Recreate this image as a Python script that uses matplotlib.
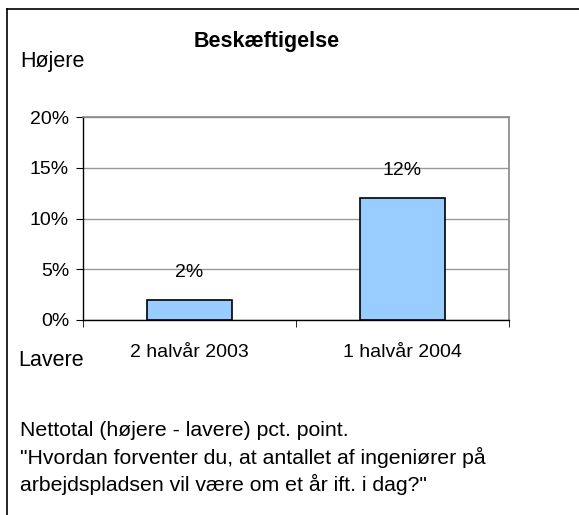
import matplotlib
matplotlib.use("Agg")
import matplotlib.pyplot as plt
from matplotlib.ticker import FuncFormatter

categories = ["2 halvår 2003", "1 halvår 2004"]
values = [2, 12]
yticks = [0, 5, 10, 15, 20]

plt.rcParams['font.family'] = ['Liberation Sans', 'DejaVu Sans']

W, H = 579, 515
fig = plt.figure(figsize=(W/100, H/100), dpi=100)
fig.patch.set_facecolor('white')

# outer frame lines (left, top)
fig.add_artist(plt.Line2D([7/W, 7/W], [0, 1 - 9/H], color='black', lw=1.2))
fig.add_artist(plt.Line2D([7/W, 1], [1 - 9/H, 1 - 9/H], color='black', lw=1.2))

x0, x1, yb, yt = 83, 509, 320, 117
ax = fig.add_axes([x0/W, 1 - yb/H, (x1 - x0)/W, (yb - yt)/H])
pos = list(range(len(categories)))
ax.bar(pos, values, width=0.4, color='#99CCFF', edgecolor='black', linewidth=1.2, zorder=3)
for p, v in zip(pos, values):
    ax.text(p, v + 2.7, f"{v}%", ha='center', va='center', fontsize=14)

ax.set_xlim(-0.5, len(categories) - 0.5)
ax.set_ylim(0, 20)
ax.set_yticks(yticks)
ax.yaxis.set_major_formatter(FuncFormatter(lambda v, _: f"{int(v)}%"))
ax.tick_params(axis='y', labelsize=14, length=5, direction='out', color='black', pad=5)
ax.set_xticks(pos)
ax.set_xticklabels(categories, fontsize=14)
ax.set_xticks([-0.5, 0.5, 1.5], minor=True)
ax.tick_params(axis='x', which='major', length=0, pad=17)
ax.tick_params(axis='x', which='minor', length=5, direction='out', color='black')
ax.grid(axis='y', color='#999999', lw=1, zorder=0)
for s in ['top', 'right']:
    ax.spines[s].set_color('#888888')
    ax.spines[s].set_linewidth(1.2)
for s in ['left', 'bottom']:
    ax.spines[s].set_color('black')
    ax.spines[s].set_linewidth(1)

fig.text(267/W, 1 - 41/H, "Beskæftigelse", ha='center', va='center', fontsize=15.5, fontweight='bold')
fig.text(20/W, 1 - 62/H, "Højere", ha='left', va='center', fontsize=15.5)
fig.text(18/W, 1 - 361/H, "Lavere", ha='left', va='center', fontsize=15.5)

lines = ["Nettotal (højere - lavere) pct. point.",
         "\"Hvordan forventer du, at antallet af ingeniører på",
         "arbejdspladsen vil være om et år ift. i dag?\""]
for i, t in enumerate(lines):
    fig.text(20/W, 1 - (430 + 27*i)/H, t, ha='left', va='center', fontsize=15.3)

fig.savefig("out.png", dpi=100)
